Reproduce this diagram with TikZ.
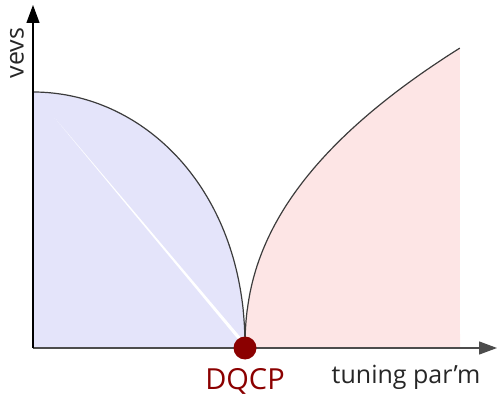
\documentclass[tikz,border=0pt]{standalone}
\usepackage{fontspec}
\setmainfont{Open Sans}
\usepackage{tikz}
\usetikzlibrary{positioning, arrows.meta, calc}

\definecolor{orderblue}{RGB}{228,228,250}
\definecolor{orderred}{RGB}{253,229,229}
\definecolor{dqcpred}{RGB}{139,0,0}
\definecolor{curvegray}{RGB}{60,60,60}

\begin{document}
\begin{tikzpicture}[
    x=1pt, y=1pt,
    % Axis & Curve Styles
    axis/.style={draw, -{Triangle[length=18pt, width=13pt]}, line width=1.3pt},
    curve/.style={draw=curvegray, line width=1.2pt},
    % Label Styles
    axislabel/.style={font=\fontsize{25}{30}\selectfont, text=black!85},
    critical/.style={circle, fill=dqcpred, minimum size=23pt, inner sep=0pt}
]
    \useasboundingbox (-33,-48) rectangle (467,348);

    % Phase regions
    \fill [orderblue] (0,0) -- (0,256)
        -- plot[domain=1:90, samples=80] ({212*cos(\x)}, {256*sin(\x)^0.94})
        -- (212,0) -- cycle;
    \fill [orderred] (212,0)
        -- plot[domain=0.01:1, samples=80] ({212+215*\x^2.222}, {300*\x})
        -- (427,0) -- cycle;

    % Order parameter curves
    \draw [curve] (0,256)
        -- plot[domain=90:1, samples=80] ({212*cos(\x)}, {256*sin(\x)^0.94}) -- (212,0);
    \draw [curve] (212,0)
        -- plot[domain=0.01:1, samples=80] ({212+215*\x^2.222}, {300*\x});

    % Axes
    \coordinate (origin) at (0,0);
    \coordinate (xend) at (464,0);
    \coordinate (yend) at (0,343);
    \draw [axis, black!70] (origin) -- (xend);
    \draw [axis] (origin) -- (yend);

    % Labels
    \node [axislabel, rotate=90] (vevs) at (-16,295) {vevs};
    \node [axislabel] (tuning) at (373,-29) {tuning par’m};

    % Critical point
    \node [critical] (dqcp) at (212,0) {};
    \node [axislabel, text=dqcpred, font=\fontsize{29}{34}\selectfont, below=5pt of dqcp] (dqcplabel) {DQCP};

\end{tikzpicture}
\end{document}
